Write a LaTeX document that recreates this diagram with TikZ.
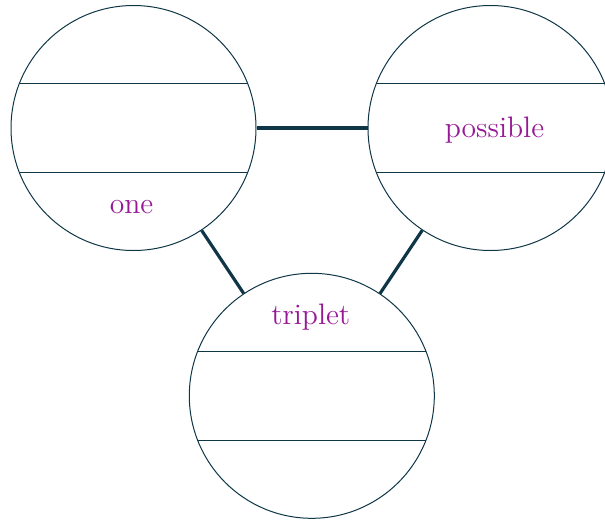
\documentclass[tikz,border=0pt]{standalone}
\usepackage{tikz}
\usetikzlibrary{positioning}

\definecolor{ink}{HTML}{0E3646}
\definecolor{wordcol}{HTML}{961A96}

\begin{document}
\begin{tikzpicture}[x=0.5pt, y=-0.5pt,
    ring/.style={circle, draw=ink, line width=0.5pt, minimum size=122.5pt, inner sep=0pt,
        path picture={
            \draw[ink, line width=0.5pt] ([yshift=22.2pt]path picture bounding box.west) -- ([yshift=22.2pt]path picture bounding box.east);
            \draw[ink, line width=0.5pt] ([yshift=-22.2pt]path picture bounding box.west) -- ([yshift=-22.2pt]path picture bounding box.east);
        }},
    word/.style={font=\fontsize{14.8}{18}\selectfont, text=wordcol, inner sep=0pt},
    bond/.style={draw=ink, line width=1.6pt}]

    \clip (0,0) rectangle (605,520);

    \node[ring] (one) at (133.5,128) {};
    \node[ring] (possible) [right=55.5pt of one] {};
    \node[ring] (triplet) at (311.8,395.8) {};

    % words in the bands
    \node[word] (oneword) at ([xshift=-1pt, yshift=-39.5pt]one.center) {one};
    \node[word] (possibleword) at ([xshift=2pt, yshift=-0.8pt]possible.center) {possible};
    \node[word] (tripletword) at ([xshift=-0.5pt, yshift=39.3pt]triplet.center) {triplet};

    \draw[bond] (one) -- (possible);
    \draw[bond] (one) -- (triplet);
    \draw[bond] (possible) -- (triplet);

\end{tikzpicture}
\end{document}
